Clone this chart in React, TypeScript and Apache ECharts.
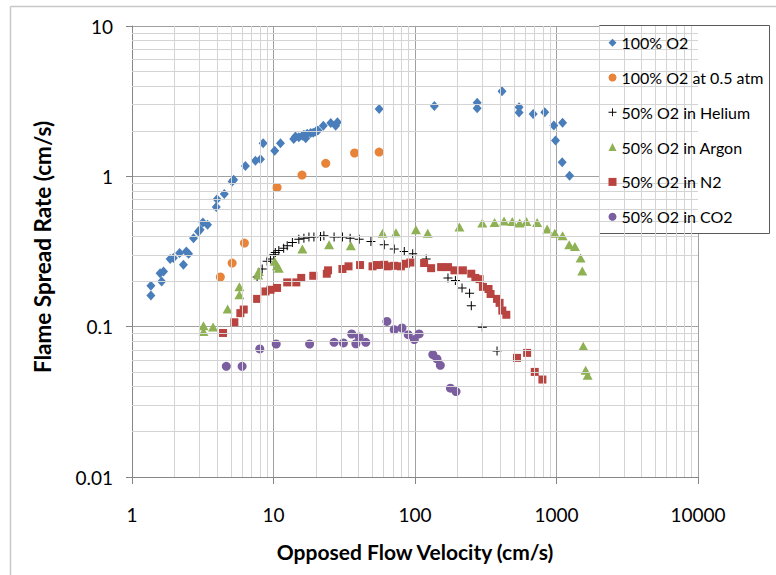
import React, { useEffect, useRef } from "react";
import * as echarts from "echarts";

const seriesNames = [
  "100% O2",
  "100% O2 at 0.5 atm",
  "50% O2 in Helium",
  "50% O2 in Argon",
  "50% O2 in N2",
  "50% O2 in CO2",
];

const o2Full = [
  [1.36, 0.161], [1.36, 0.187], [1.62, 0.2], [1.58, 0.227], [1.67, 0.233], [1.86, 0.282],
  [1.96, 0.286], [2.17, 0.309], [2.31, 0.258], [2.42, 0.316], [2.51, 0.305], [2.72, 0.388],
  [2.95, 0.43], [3.03, 0.441], [3.17, 0.493], [3.42, 0.476], [3.94, 0.624], [3.99, 0.705],
  [4.49, 0.762], [5.1, 0.923], [5.23, 0.948], [6.33, 1.17], [7.45, 1.27], [8.09, 1.3],
  [8.45, 1.66], [10.2, 1.48], [11.2, 1.66], [13.9, 1.77], [14.3, 1.84], [15.1, 1.82],
  [16.0, 1.86], [16.4, 1.89], [16.9, 1.79], [17.3, 1.92], [18.3, 1.94], [19.1, 1.95],
  [19.9, 1.99], [20.6, 2.02], [22.5, 2.17], [25.4, 2.26], [27.5, 2.17], [28.3, 2.29],
  [55.8, 2.8], [137, 2.94], [275, 3.09], [275, 2.84], [412, 3.68], [544, 2.88], [544, 2.66],
  [684, 2.6], [826, 2.67], [957, 2.18], [1104, 2.27], [984, 1.73], [1097, 1.24], [1237, 1.01],
];

const o2Half = [
  [4.21, 0.214], [5.1, 0.265], [6.23, 0.36], [10.6, 0.843], [15.9, 1.02], [23.4, 1.22],
  [37.4, 1.43], [55.8, 1.45],
];

const helium = [
  [7.66, 0.214], [8.32, 0.242], [9.02, 0.272], [9.52, 0.282], [10.05, 0.301], [10.3, 0.312],
  [10.9, 0.321], [11.8, 0.333], [12.5, 0.345], [13.6, 0.363], [15.1, 0.382], [16.4, 0.388],
  [17.8, 0.395], [19.3, 0.395], [21.5, 0.398], [22.7, 0.403], [26.8, 0.395], [30.7, 0.395],
  [34.8, 0.388], [40.3, 0.382], [48.8, 0.369], [60.6, 0.351], [71.3, 0.328], [84, 0.316],
  [96.3, 0.305], [120, 0.282], [171, 0.211], [193, 0.203], [215, 0.181], [243, 0.167],
  [250, 0.138], [299, 0.099], [380, 0.069],
];

const argon = [
  [3.2, 0.1015], [3.2, 0.093], [3.74, 0.0996], [4.74, 0.131], [5.74, 0.184], [5.74, 0.163],
  [7.87, 0.233], [7.8, 0.221], [10.2, 0.272], [10.6, 0.254], [10.9, 0.245], [16.0, 0.328],
  [24.7, 0.351], [35.2, 0.345], [59, 0.419], [73.3, 0.421], [101.6, 0.441], [123, 0.419],
  [206, 0.46], [299, 0.489], [365, 0.493], [426, 0.504], [487, 0.5], [549, 0.489], [613, 0.5],
  [730, 0.493], [859, 0.446], [973, 0.419], [1104, 0.402], [1230, 0.351], [1349, 0.342],
  [1480, 0.286], [1521, 0.235], [1546, 0.074], [1606, 0.0513], [1660, 0.0475],
];

const nitrogen = [
  [4.4, 0.0908], [5.29, 0.107], [5.83, 0.123], [6.16, 0.13], [7.66, 0.153], [8.78, 0.1715],
  [9.52, 0.176], [10.6, 0.181], [12.5, 0.197], [14.5, 0.197], [15.7, 0.211], [19.1, 0.218],
  [23.8, 0.225], [24.3, 0.237], [30.7, 0.242], [33.9, 0.252], [40.9, 0.257], [50.1, 0.252],
  [53.8, 0.257], [60.6, 0.258], [64, 0.252], [71.3, 0.254], [79.5, 0.252], [86.3, 0.262],
  [92.7, 0.267], [116, 0.265], [130, 0.245], [153, 0.249], [171, 0.249], [190, 0.237],
  [218, 0.237], [250, 0.225], [267, 0.211], [286, 0.207], [302, 0.184], [331, 0.178],
  [342, 0.165], [380, 0.153], [396, 0.144], [414, 0.128], [442, 0.12], [526, 0.062],
  [620, 0.0669], [702, 0.05], [795, 0.0445],
];

const co2 = [
  [4.64, 0.0545], [6.0, 0.0545], [8.0, 0.0711], [10.45, 0.0767], [18.0, 0.0767], [26.8, 0.0787],
  [31.2, 0.078], [35.7, 0.0894], [38.2, 0.077], [40.3, 0.0855], [44.9, 0.0787], [63.3, 0.1084],
  [71.3, 0.0955], [80.9, 0.098], [89.6, 0.0885], [98.9, 0.082], [107, 0.0895], [133.6, 0.0652],
  [143, 0.061], [151, 0.0553], [178, 0.039], [195, 0.037],
];

const xMinorTicks = [
  2, 3, 4, 5, 6, 7, 8, 9, 20, 30, 40, 50, 60, 70, 80, 90, 200, 300, 400, 500, 600, 700, 800, 900,
  2000, 3000, 4000, 5000, 6000, 7000, 8000, 9000,
];
const yMinorTicks = [
  0.02, 0.03, 0.04, 0.05, 0.06, 0.07, 0.08, 0.09, 0.2, 0.3, 0.4, 0.5, 0.6, 0.7, 0.8, 0.9,
  2, 3, 4, 5, 6, 7, 8, 9,
];

const xTitle = "Opposed Flow Velocity (cm/s)";
const yTitle = "Flame Spread Rate (cm/s)";

const PLUS = "path://M4,0h1v4h4v1h-4v4h-1v-4h-4v-1h4z";
const FONT = "Lato, 'Open Sans', sans-serif";

export default function App() {
  const ref = useRef<HTMLDivElement>(null);
  useEffect(() => {
    const chart = echarts.init(ref.current!, null, { renderer: "svg" });
    const fmt = (v: number) => String(+Number(v).toPrecision(6));
    const mk = (name: string, data: number[][], symbol: string, size: any, color: string) => ({
      name,
      type: "scatter",
      data,
      symbol,
      symbolSize: size,
      itemStyle: { color, opacity: 1 },
      z: 3,
    });
    chart.setOption({
      animation: false,
      backgroundColor: "#ffffff",
      textStyle: { fontFamily: FONT },
      grid: { left: 132, right: 78, top: 26, bottom: 98, containLabel: false },
      xAxis: {
        type: "log",
        logBase: 10,
        min: 1,
        max: 10000,
        axisLine: { show: true, lineStyle: { color: "#868686", width: 1 } },
        axisTick: { show: true, inside: false, length: 7, lineStyle: { color: "#868686" } },
        axisLabel: { color: "#000", fontSize: 19, fontFamily: FONT, margin: 28, formatter: fmt },
        splitLine: { show: true, lineStyle: { color: "#a0a0a0", width: 1 } },
        minorTick: { show: false },
        minorSplitLine: { show: false },
      },
      yAxis: {
        type: "log",
        logBase: 10,
        min: 0.01,
        max: 10,
        axisLine: { show: true, lineStyle: { color: "#868686", width: 1 } },
        axisTick: { show: true, inside: false, length: 6, lineStyle: { color: "#868686" } },
        axisLabel: { color: "#000", fontSize: 19, fontFamily: FONT, margin: 19, formatter: fmt },
        splitLine: { show: true, lineStyle: { color: "#a0a0a0", width: 1 } },
        minorTick: { show: false },
        minorSplitLine: { show: false },
      },
      legend: {
        orient: "vertical",
        left: 608.5,
        top: 34.7,
        padding: 0,
        itemWidth: 8,
        itemHeight: 8,
        itemGap: 18.8,
        data: seriesNames,
        textStyle: { color: "#000", fontSize: 16, fontFamily: FONT },
        selectedMode: false,
        z: 6,
      },
      graphic: [
        { type: "line", shape: { x1: 10.5, y1: 6.5, x2: 776, y2: 6.5 }, style: { stroke: "#c8c8c8", lineWidth: 1.5 }, silent: true },
        { type: "line", shape: { x1: 10.5, y1: 6.5, x2: 10.5, y2: 575 }, style: { stroke: "#c8c8c8", lineWidth: 1.5 }, silent: true },
        {
          type: "rect",
          shape: { x: 599.5, y: 25.5, width: 170, height: 208 },
          style: { fill: "#ffffff", stroke: "#595959", lineWidth: 1 },
          z: 4,
          silent: true,
        },
        {
          type: "text",
          x: 415,
          y: 551,
          style: { text: xTitle, font: `bold 21px ${FONT}`, fill: "#000", align: "center", verticalAlign: "middle" },
          silent: true,
        },
        {
          type: "text",
          x: 42,
          y: 247,
          rotation: Math.PI / 2,
          style: { text: yTitle, font: `bold 22.5px ${FONT}`, fill: "#000", align: "center", verticalAlign: "middle" },
          silent: true,
        },
      ],
      series: [
        {
          name: "minorGrid",
          type: "line",
          data: [],
          z: 1,
          silent: true,
          markLine: {
            silent: true,
            symbol: ["none", "none"],
            label: { show: false },
            lineStyle: { color: "#d4d4d4", width: 1, type: "solid" },
            emphasis: { disabled: true },
            data: [
              ...xMinorTicks.map((v) => ({ xAxis: v })),
              ...yMinorTicks.map((v) => ({ yAxis: v })),
            ],
          },
        },
        mk(seriesNames[0], o2Full, "diamond", [9, 10], "#4A7EBB"),
        mk(seriesNames[1], o2Half, "circle", 9, "#E8833A"),
        mk(seriesNames[2], helium, PLUS, 9, "#000000"),
        mk(seriesNames[3], argon, "triangle", [10, 9], "#8EB153"),
        mk(seriesNames[4], nitrogen, "rect", 8, "#B8433F"),
        mk(seriesNames[5], co2, "circle", 9, "#7B5EA0"),
      ],
    });
    return () => chart.dispose();
  }, []);
  return <div ref={ref} style={{ position: "absolute", left: 0, top: 0, width: 776, height: 575 }} />;
}
